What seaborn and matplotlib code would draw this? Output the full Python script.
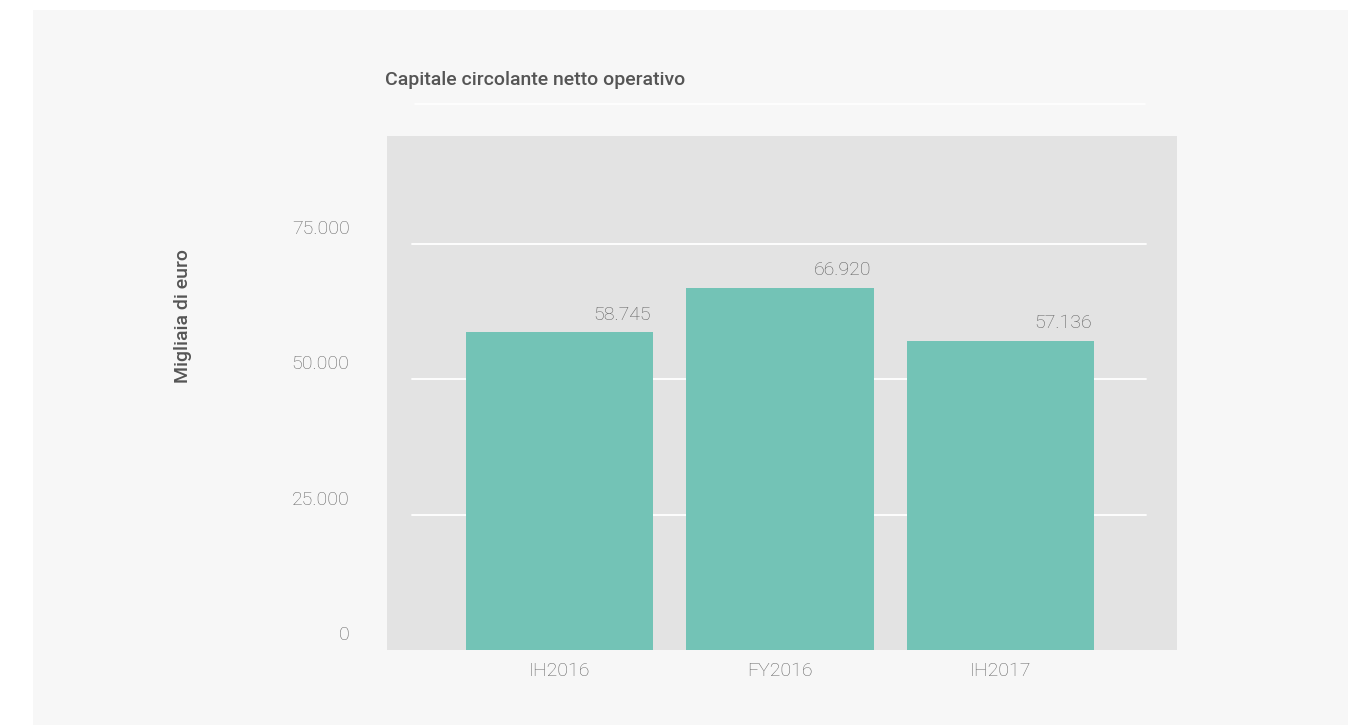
import matplotlib
matplotlib.use('Agg')
import matplotlib.pyplot as plt
import matplotlib.transforms as mtransforms
from matplotlib.patches import Rectangle
from matplotlib.lines import Line2D
import seaborn as sns
import pandas as pd

# data
periods = ['IH2016', 'FY2016', 'IH2017']
values = [58745, 66920, 57136]
y_ticks = [0, 25000, 50000, 75000]

title = 'Capitale circolante netto operativo'
y_label = 'Migliaia di euro'

BAR = '#73c3b6'
PANEL = '#f7f7f7'
AX_BG = '#e3e3e3'
DARK = '#555555'
LIGHT = '#646464'


def fmt_it(v):
    return f'{v:,}'.replace(',', '.')


sns.set_style('white')
plt.rcParams['font.family'] = ['Roboto', 'DejaVu Sans']

fig = plt.figure(figsize=(13.58, 7.26), dpi=100, facecolor='white')
# light grey card behind the chart
fig.add_artist(Rectangle((33 / 1358, 1 - 725 / 726), (1348 - 33) / 1358, (725 - 10) / 726,
                         transform=fig.transFigure, facecolor=PANEL, edgecolor='none', zorder=-10))
# thin white rule under the title
fig.add_artist(Line2D([415 / 1358, 1145 / 1358], [1 - 104 / 726] * 2,
                      transform=fig.transFigure, color='white', lw=1.2))

ax = fig.add_axes([387 / 1358, 1 - 650 / 726, 790 / 1358, 514 / 726])
ax.set_facecolor(AX_BG)

df = pd.DataFrame({'period': periods, 'value': values})
sns.barplot(data=df, x='period', y='value', color=BAR, saturation=1, width=0.85,
            linewidth=0, ax=ax, zorder=3)

ax.set_xlim(-0.782, 2.80)
ax.set_ylim(0, 95000)
ax.set_yticks(y_ticks)
ax.set_yticklabels([fmt_it(t) for t in y_ticks])
for t in y_ticks[1:]:
    ax.axhline(t, xmin=0.032, xmax=0.961, color='white', lw=1.3, zorder=1)

for s in ax.spines.values():
    s.set_visible(False)
ax.tick_params(axis='both', length=0)
ax.tick_params(axis='y', pad=27, labelsize=14, labelcolor=LIGHT)
ax.tick_params(axis='x', pad=9, labelsize=14, labelcolor=LIGHT)
for lab in ax.get_yticklabels() + ax.get_xticklabels():
    lab.set_fontweight('light')
# the y labels sit a little above their gridlines
shift = mtransforms.ScaledTranslation(0, 0.17, fig.dpi_scale_trans)
for lab in ax.get_yticklabels():
    lab.set_transform(lab.get_transform() + shift)
ax.set_xlabel('')
ax.set_ylabel('')

# value labels, right-aligned at the bar edge
for patch, v in zip(ax.patches, values):
    ax.text(patch.get_x() + patch.get_width() - 0.01, patch.get_height() + 1600, fmt_it(v),
            ha='right', va='bottom', fontsize=14, color='#5e5e5e', fontweight='light', zorder=4)

fig.text(385 / 1358, 1 - 80 / 726, title, ha='left', va='center',
         fontsize=14, color=DARK, fontweight='medium')
fig.text(183 / 1358, 1 - 316 / 726, y_label, ha='center', va='center', rotation=90,
         fontsize=14, color=DARK, fontweight='medium')

fig.savefig('out.png', dpi=100, facecolor='white')
